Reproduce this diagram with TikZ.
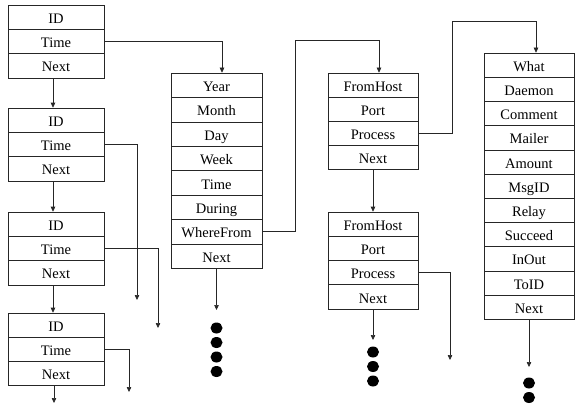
\documentclass[tikz,border=0pt]{standalone}
\usepackage{fontspec}
\setmainfont{Liberation Serif}
\usetikzlibrary{arrows.meta,calc}
\tikzset{
  cell/.style={draw=black!85, line width=0.6pt, inner sep=0pt, text height=12.4pt, text depth=0pt, font=\fontsize{14.5}{16}\selectfont},
  conn/.style={draw=black!85, line width=0.6pt},
  arr/.style={conn, -{Triangle[length=5pt,width=4.5pt]}},
  dot/.style={fill=black}
}
\newcommand{\recbox}[6]{%
  \foreach \t [count=\i] in {#6} {%
    \node[cell, minimum width=#4pt, minimum height=#5pt] (#1-\i) at (#2, {#3 + (\i-0.5)*#5}) {\t};
  }}
\begin{document}
\begin{tikzpicture}[x=1pt,y=-1pt]
\useasboundingbox (0,0) rectangle (578,412);
% left column
\recbox{La}{56}{5}{96}{24.3}{ID,Time,Next}
\recbox{Lb}{56}{108}{96}{24.3}{ID,Time,Next}
\recbox{Lc}{56}{212}{96}{24.3}{ID,Time,Next}
\recbox{Ld}{56}{313}{96}{24.2}{ID,Time,Next}
% date box
\recbox{Y}{216.5}{73}{91}{24.4}{Year,Month,Day,Week,Time,During,WhereFrom,Next}
% host boxes
\recbox{Fa}{373}{73}{90}{24}{FromHost,Port,Process,Next}
\recbox{Fb}{373}{212}{90}{24.25}{FromHost,Port,Process,Next}
% what box
\recbox{W}{529}{53}{90}{24.2}{What,Daemon,Comment,Mailer,Amount,MsgID,Relay,Succeed,InOut,ToID,Next}

% free ends and bends
\coordinate (e2) at (137,300);
\coordinate (e3) at (158,328);
\coordinate (e4) at (129,392);
\coordinate (e5) at (54,403);
\coordinate (k1) at (295,40);
\coordinate (k2) at (452,21);
\coordinate (e6) at (450,360);
\coordinate (e7) at (373,340);
\coordinate (e8) at (216.5,310);
\coordinate (e9) at (529,367);

% left chain
\draw[arr] ([xshift=-3pt]La-3.south) -- ([xshift=-3pt]Lb-1.north);
\draw[arr] ([xshift=-3pt]Lb-3.south) -- ([xshift=-3pt]Lc-1.north);
\draw[arr] ([xshift=-3pt]Lc-3.south) -- ([xshift=-3pt]Ld-1.north);
\draw[arr] ([xshift=-2pt]Ld-3.south) -- (e5);
% time links
\draw[arr] (La-2.east) -| ([xshift=5.5pt]Y-1.north);
\draw[arr] (Lb-2.east) -| (e2);
\draw[arr] (Lc-2.east) -| (e3);
\draw[arr] (Ld-2.east) -| (e4);
% date box links
\draw[arr] (Y-7.east) -| (k1) -| ([xshift=6pt]Fa-1.north);
\draw[arr] (Y-8.south) -- (e8);
% host links
\draw[arr] (Fa-3.east) -| (k2) -| ([xshift=7pt]W-1.north);
\draw[arr] (Fa-4.south) -- (Fb-1.north);
\draw[arr] (Fb-3.east) -| (e6);
\draw[arr] (Fb-4.south) -- (e7);
\draw[arr] (W-11.south) -- (e9);

% continuation dots
\foreach \yy in {328,342.5,357,371.5} \fill[dot] (216.5,\yy) ellipse (6pt and 5.5pt);
\foreach \yy in {352,366.5,381} \fill[dot] (373,\yy) ellipse (6pt and 5.5pt);
\foreach \yy in {383,397.5} \fill[dot] (529,\yy) ellipse (6pt and 5.5pt);
\end{tikzpicture}
\end{document}
